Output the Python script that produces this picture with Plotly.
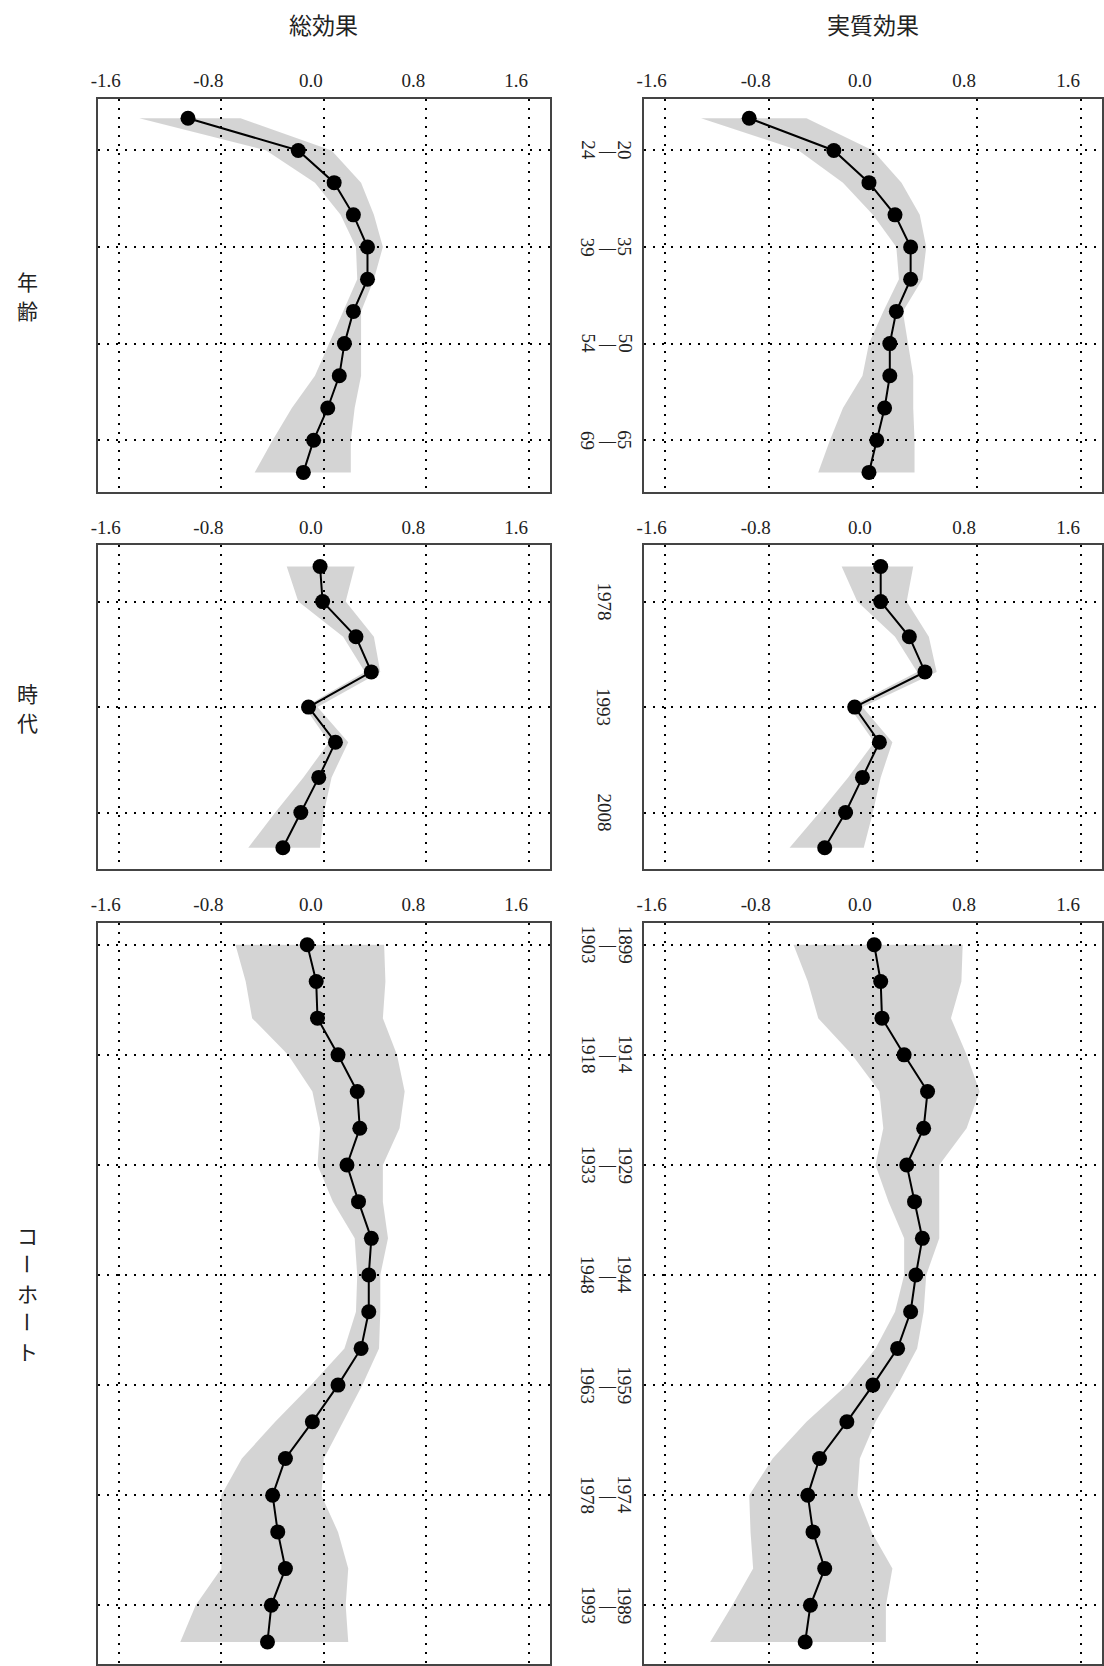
import plotly.graph_objects as go

# ---------------- data ----------------
age_groups = ["15-19", "20-24", "25-29", "30-34", "35-39", "40-44",
              "45-49", "50-54", "55-59", "60-64", "65-69", "70-74"]
age_ticks = ["20-24", "35-39", "50-54", "65-69"]

age_total = [-1.06, -0.20, 0.08, 0.23, 0.34, 0.34, 0.23, 0.16, 0.12, 0.03, -0.08, -0.16]
age_total_lo = [-1.44, -0.45, -0.07, 0.13, 0.25, 0.26, 0.15, 0.04, -0.07, -0.25, -0.40, -0.54]
age_total_hi = [-0.65, 0.06, 0.29, 0.39, 0.46, 0.39, 0.29, 0.29, 0.29, 0.24, 0.21, 0.21]

age_sub = [-0.95, -0.30, -0.03, 0.17, 0.29, 0.29, 0.18, 0.13, 0.13, 0.09, 0.03, -0.03]
age_sub_lo = [-1.32, -0.57, -0.23, 0.00, 0.18, 0.20, 0.08, -0.03, -0.08, -0.23, -0.33, -0.42]
age_sub_hi = [-0.51, 0.00, 0.22, 0.36, 0.41, 0.38, 0.23, 0.27, 0.31, 0.31, 0.32, 0.32]

periods = ["1973", "1978", "1983", "1988", "1993", "1998", "2003", "2008", "2013"]
period_ticks = ["1978", "1993", "2008"]

period_total = [-0.03, -0.01, 0.25, 0.37, -0.12, 0.09, -0.04, -0.18, -0.32]
period_total_lo = [-0.29, -0.20, 0.15, 0.32, -0.15, 0.04, -0.16, -0.38, -0.59]
period_total_hi = [0.24, 0.17, 0.39, 0.44, -0.05, 0.19, 0.06, 0.00, -0.03]

period_sub = [0.06, 0.06, 0.28, 0.40, -0.14, 0.05, -0.08, -0.21, -0.37]
period_sub_lo = [-0.24, -0.12, 0.17, 0.34, -0.18, 0.01, -0.19, -0.41, -0.64]
period_sub_hi = [0.31, 0.26, 0.43, 0.49, -0.08, 0.15, 0.06, 0.00, -0.07]

cohorts = ["1899-1903", "1904-1908", "1909-1913", "1914-1918", "1919-1923",
           "1924-1928", "1929-1933", "1934-1938", "1939-1943", "1944-1948",
           "1949-1953", "1954-1958", "1959-1963", "1964-1968", "1969-1973",
           "1974-1978", "1979-1983", "1984-1988", "1989-1993", "1994-1998"]
cohort_ticks = ["1899-1903", "1914-1918", "1929-1933", "1944-1948",
                "1959-1963", "1974-1978", "1989-1993"]

cohort_total = [-0.13, -0.06, -0.05, 0.11, 0.26, 0.28, 0.18, 0.27, 0.37, 0.35,
                0.35, 0.29, 0.11, -0.09, -0.30, -0.40, -0.36, -0.30, -0.41, -0.44]
cohort_total_lo = [-0.69, -0.61, -0.56, -0.28, -0.09, -0.03, -0.05, 0.07, 0.24, 0.26,
                   0.25, 0.16, -0.10, -0.38, -0.64, -0.80, -0.81, -0.80, -1.00, -1.12]
cohort_total_hi = [0.47, 0.48, 0.46, 0.57, 0.63, 0.59, 0.46, 0.46, 0.50, 0.44,
                   0.44, 0.43, 0.30, 0.15, 0.00, -0.02, 0.11, 0.19, 0.17, 0.19]

cohort_sub = [0.01, 0.06, 0.07, 0.24, 0.42, 0.39, 0.26, 0.32, 0.38, 0.33,
              0.29, 0.19, 0.00, -0.20, -0.41, -0.50, -0.46, -0.37, -0.48, -0.52]
cohort_sub_lo = [-0.61, -0.50, -0.42, -0.16, 0.05, 0.08, 0.02, 0.12, 0.24, 0.24,
                 0.17, 0.02, -0.20, -0.51, -0.77, -0.95, -0.94, -0.92, -1.08, -1.25]
cohort_sub_hi = [0.69, 0.68, 0.60, 0.72, 0.82, 0.72, 0.51, 0.51, 0.51, 0.41,
                 0.39, 0.34, 0.19, 0.02, -0.10, -0.12, -0.01, 0.15, 0.10, 0.10]

x_ticks = [-1.6, -0.8, 0.0, 0.8, 1.6]
x_tick_text = ["-1.6", "-0.8", "0.0", "0.8", "1.6"]

col_titles = ["総効果", "実質効果"]
row_titles = ["年齢", "時代", "コーホート"]

# ---------------- layout geometry ----------------
W, H = 1104, 1666
col_px = [(92, 547), (642, 1104)]
row_px = [(99, 492), (545.7, 869.3), (923.3, 1665)]

NUM_FONT = "Liberation Serif, Times New Roman, serif"
JP_FONT = "Noto Sans CJK JP, sans-serif"
TXT = "#222222"

panels = [
    (0, 0, age_groups, age_ticks, age_total, age_total_lo, age_total_hi),
    (0, 1, age_groups, age_ticks, age_sub, age_sub_lo, age_sub_hi),
    (1, 0, periods, period_ticks, period_total, period_total_lo, period_total_hi),
    (1, 1, periods, period_ticks, period_sub, period_sub_lo, period_sub_hi),
    (2, 0, cohorts, cohort_ticks, cohort_total, cohort_total_lo, cohort_total_hi),
    (2, 1, cohorts, cohort_ticks, cohort_sub, cohort_sub_lo, cohort_sub_hi),
]

fig = go.Figure()
layout = dict(width=W, height=H, margin=dict(l=0, r=0, t=0, b=0),
              paper_bgcolor="white", plot_bgcolor="white", showlegend=False)
annotations = []


def ann(x_px, y, yref, text, size, family, angle=0):
    return dict(x=x_px / W, xref="paper", y=y, yref=yref, text=text,
                textangle=angle, showarrow=False, xanchor="center",
                yanchor="middle", borderpad=0,
                font=dict(family=family, size=size, color=TXT))


for k, (r, c, cats, ticks, est, lo, hi) in enumerate(panels, start=1):
    xn = "x" if k == 1 else f"x{k}"
    yn = "y" if k == 1 else f"y{k}"
    # confidence band
    fig.add_trace(go.Scatter(
        x=list(lo) + list(hi)[::-1], y=list(cats) + list(cats)[::-1],
        fill="toself", fillcolor="rgba(0,0,0,0.17)", line=dict(width=0),
        mode="lines", hoverinfo="skip", xaxis=xn, yaxis=yn))
    # estimates
    fig.add_trace(go.Scatter(
        x=est, y=cats, mode="lines+markers",
        line=dict(color="black", width=2),
        marker=dict(color="black", size=15),
        xaxis=xn, yaxis=yn))
    x0, x1 = col_px[c]
    y0, y1 = row_px[r]
    n = len(cats)
    layout["xaxis" if k == 1 else f"xaxis{k}"] = dict(
        domain=[x0 / W, x1 / W], anchor=yn, range=[-1.76, 1.76],
        side="top", tickvals=x_ticks, ticktext=x_tick_text, ticks="",
        ticklabelshift=-13, ticklabelstandoff=2,
        tickfont=dict(family=NUM_FONT, size=19, color=TXT),
        showgrid=True, gridcolor="black", gridwidth=2, griddash="2px,7px",
        zeroline=False, showline=True, linecolor="#444444", linewidth=2,
        mirror=True, fixedrange=True)
    layout["yaxis" if k == 1 else f"yaxis{k}"] = dict(
        domain=[1 - y1 / H, 1 - y0 / H], anchor=xn, type="category",
        categoryorder="array", categoryarray=cats,
        range=[n - 1 + 0.6, -0.6], tickvals=ticks, showticklabels=False,
        ticks="", showgrid=True, gridcolor="black", gridwidth=2,
        griddash="2px,7px", zeroline=False, showline=True,
        linecolor="#444444", linewidth=2, mirror=True, fixedrange=True)
    # category labels (rotated) to the left of the right-hand panels
    if c == 1:
        for t in ticks:
            pos = cats.index(t)
            parts = t.split("-")
            if len(parts) == 2:
                annotations.append(ann(623, pos, yn, parts[0], 19, NUM_FONT, 90))
                annotations.append(ann(605, pos, yn, "—", 17, NUM_FONT, 0))
                annotations.append(ann(586, pos, yn, parts[1], 19, NUM_FONT, 90))
            else:
                annotations.append(ann(602, pos, yn, t, 19, NUM_FONT, 90))

# column titles
for c, title in enumerate(col_titles):
    x0, x1 = col_px[c]
    annotations.append(ann((x0 + x1) / 2, 1 - 24 / H, "paper", title, 23, JP_FONT))

# row titles (vertical, one character at a time)
for r, title in enumerate(row_titles):
    y0, y1 = row_px[r]
    yc = (y0 + y1) / 2
    step = 29
    n = len(title)
    for i, ch in enumerate(title):
        py = yc + (i - (n - 1) / 2) * step
        annotations.append(ann(21, 1 - py / H, "paper", ch, 21, JP_FONT,
                               90 if ch == "ー" else 0))

layout["annotations"] = annotations
fig.update_layout(**layout)
fig.write_html("out.html")
